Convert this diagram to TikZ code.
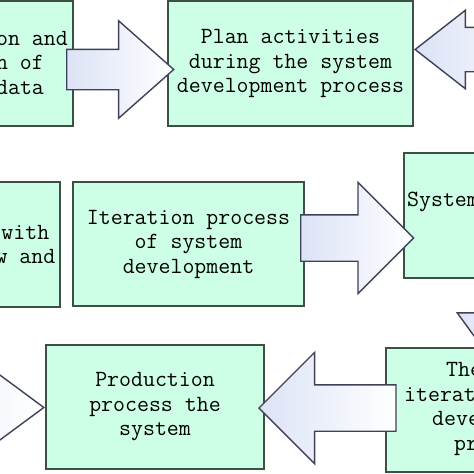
\documentclass[tikz,border=0pt]{standalone}
\usepackage{tikz}
\usetikzlibrary{shapes.arrows}
\definecolor{boxfill}{RGB}{204,255,230}
\definecolor{boxline}{RGB}{60,80,70}
\definecolor{arrline}{RGB}{62,66,88}
\definecolor{arrfill}{RGB}{220,227,246}
\tikzset{
  stepbox/.style={rectangle,draw=boxline,line width=1.8pt,fill=boxfill,inner sep=0pt,
    font=\ttfamily\fontsize{23.2}{24.5}\selectfont,align=center},
  boxtext/.style={inner sep=0pt,font=\ttfamily\fontsize{23.2}{24.5}\selectfont},
  fatarrow/.style={single arrow,draw=arrline,line width=1.4pt,left color=arrfill,right color=white,
    inner xsep=0pt}
}
\newcommand{\boxnode}{\node[stepbox]}
\newcommand{\arrnode}{\node[fatarrow]}

\begin{document}
\begin{tikzpicture}[x=1pt,y=-1pt]
      \useasboundingbox (0,0) rectangle (474,474);
      \boxnode[minimum width=253pt,minimum height=125pt] (collect) at (-53.5,63.5) {}; %
      \node[boxtext,align=right,anchor=east] (collecttxt) at (68,62.5) {on and\\n of\phantom{nn}\\data\phantom{nn}};
      \boxnode[minimum width=245pt,minimum height=125pt] (plan) at (290.5,63.5) {Plan activities\\during the system\\development process};
      \boxnode[minimum width=246pt,minimum height=125pt] (system) at (527,215.5) {}; %
      \node[boxtext,anchor=west] (systemtxt) at (407,202) {System};
      \boxnode[minimum width=240pt,minimum height=125pt] (workflow) at (-60,244.5) {}; %
      \node[boxtext,align=right,anchor=east] (workflowtxt) at (55.5,244.5) {with\hspace*{6.1pt}\\w and};
      \boxnode[minimum width=231pt,minimum height=124pt] (iterate) at (188.5,244) {Iteration process\\of system\\development};
      \boxnode[minimum width=218pt,minimum height=124pt] (produce) at (155,407) {Production\\process the\\system};
      % arrow down, partly under the last box
      \arrnode[rotate=-90,inner ysep=22pt,single arrow head extend=23pt,minimum height=110pt,
        single arrow tip angle=72,anchor=tip] (system2final) at (503,377) {};
      \boxnode[minimum width=264pt,minimum height=124pt] (final) at (518,410) {}; %
      \node[boxtext,align=left,anchor=west] (finaltxt) at (404,409) {\hspace*{42pt}The\\iterat\\\hspace*{28pt}deve\\\hspace*{50pt}pr};
      % block arrows
      \arrnode[inner ysep=19.5pt,single arrow head extend=28.5pt,minimum height=107pt,
        single arrow tip angle=83,anchor=tail] (collect2plan) at (66,69.5) {};
      \arrnode[shape border rotate=180,inner ysep=21.5pt,single arrow head extend=17pt,minimum height=146pt,
        single arrow tip angle=76,anchor=tip] (right2plan) at (414,49.5) {};
      \arrnode[inner ysep=22.5pt,single arrow head extend=32.5pt,minimum height=113pt,
        single arrow tip angle=90,anchor=tail] (iterate2system) at (300,238) {};
      \arrnode[shape border rotate=180,inner ysep=22.5pt,single arrow head extend=32.5pt,minimum height=137pt,
        single arrow tip angle=90,anchor=tip] (final2produce) at (258,408) {};
      \arrnode[inner ysep=22pt,single arrow head extend=26pt,minimum height=200pt,
        single arrow tip angle=73,anchor=tip] (left2produce) at (45,407.5) {};
\end{tikzpicture}
\end{document}
